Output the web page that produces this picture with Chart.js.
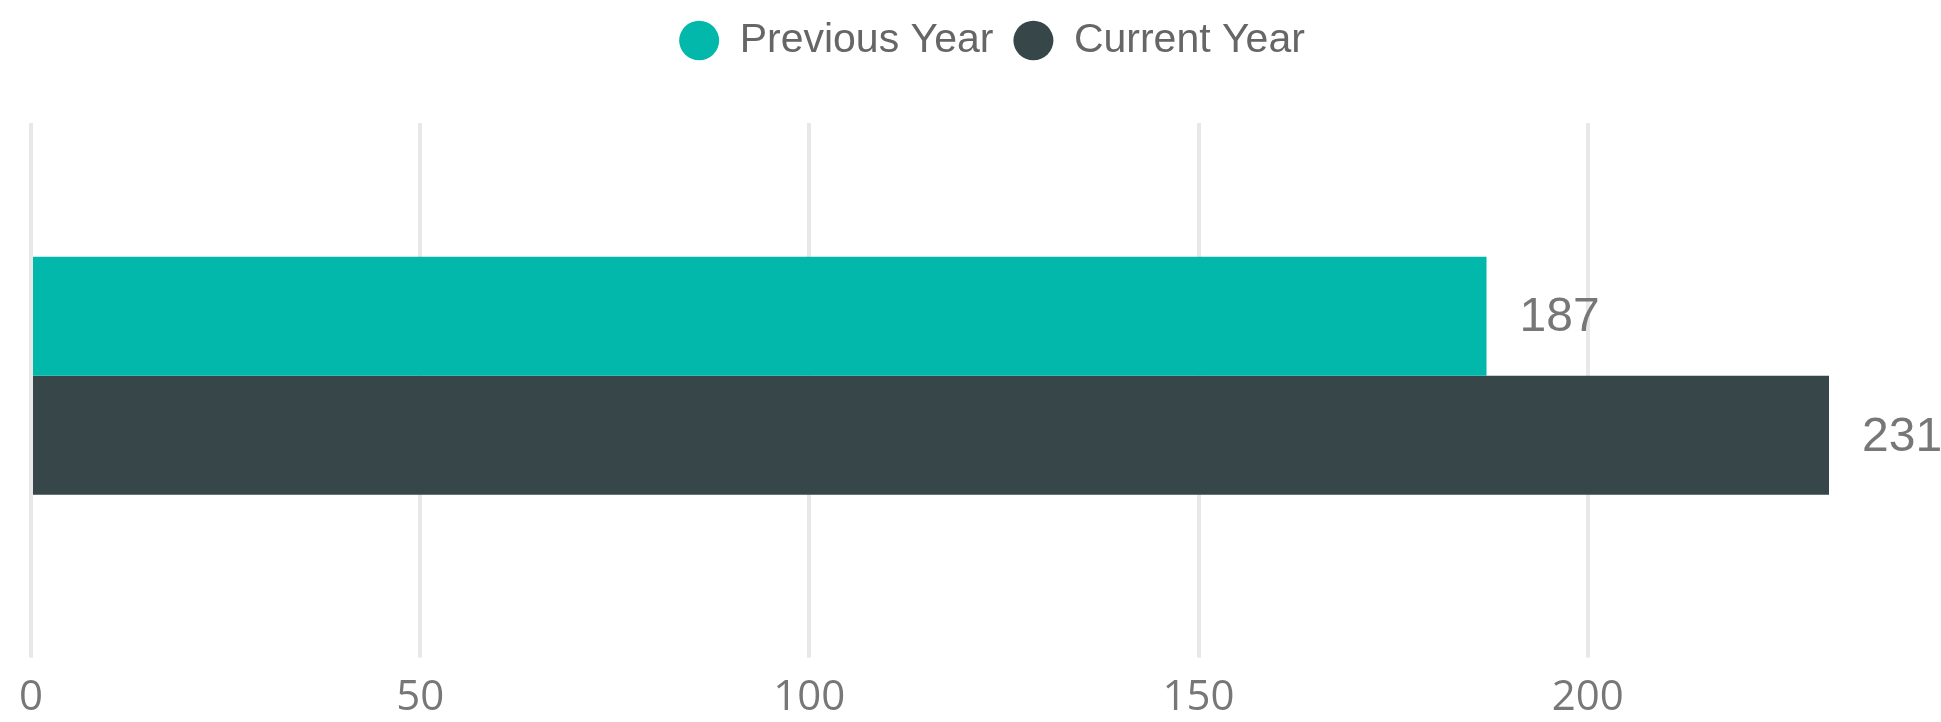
<!DOCTYPE html>
<html>
<head>
<meta charset="utf-8">
<script src="https://cdn.jsdelivr.net/npm/chart.js@4/dist/chart.umd.min.js"></script>
<style>
  html, body { margin: 0; padding: 0; background: #fff; }
  #wrap { width: 1941px; height: 722px; }
</style>
</head>
<body>
<div id="wrap"><canvas id="yoy"></canvas></div>
<script>
/** PREVIOUS vs CURRENT YEAR BAR WIDGET **/

var categories = [''];
var seriesNames = ['Previous Year', 'Current Year'];
var previousYear = [187];
var currentYear = [231];
var tickValues = [0, 50, 100, 150, 200];
var seriesColors = ['#01B8AA', '#374649'];

// value labels drawn next to each bar end
var barValueLabels = {
    id: 'barValueLabels',
    afterDatasetsDraw: function (chart) {
        var ctx = chart.ctx;
        ctx.save();
        ctx.font = '48px "Liberation Sans", Arial, sans-serif';
        ctx.fillStyle = '#777777';
        ctx.textAlign = 'left';
        ctx.textBaseline = 'middle';
        chart.data.datasets.forEach(function (ds, i) {
            chart.getDatasetMeta(i).data.forEach(function (bar, j) {
                ctx.fillText(String(ds.data[j]), bar.x + 33, bar.y + 2);
            });
        });
        ctx.restore();
    }
};

// extra room under the legend, and nudge it a bit right
var legendSpacing = {
    id: 'legendSpacing',
    beforeInit: function (chart) {
        var legend = chart.legend;
        var fit = legend.fit;
        legend.fit = function () {
            fit.call(legend);
            this.height += 52;
        };
    },
    afterLayout: function (chart) {
        chart.legend.left += 62;
        chart.legend.right += 62;
    }
};

var yoy = document.getElementById('yoy');

var yoyChart = new Chart(yoy, {
    type: 'bar',
    data: {
        labels: categories,
        datasets: [{
            label: seriesNames[0],
            data: previousYear,
            backgroundColor: seriesColors[0]
        }, {
            label: seriesNames[1],
            data: currentYear,
            backgroundColor: seriesColors[1]
        }]
    },
    options: {
        indexAxis: 'y',
        responsive: true,
        maintainAspectRatio: false,
        animation: false,
        categoryPercentage: 0.471,
        barPercentage: 1,
        layout: {
            padding: { left: 31, right: 112, top: 0, bottom: -16 }
        },
        plugins: {
            tooltip: { enabled: false },
            legend: {
                position: 'top',
                labels: {
                    usePointStyle: true,
                    pointStyle: 'circle',
                    pointStyleWidth: 40,
                    boxHeight: 28,
                    padding: 20,
                    color: '#666666',
                    font: { family: '"Liberation Sans", Arial, sans-serif', size: 41 }
                }
            }
        },
        scales: {
            x: {
                min: 0,
                max: 231,
                afterBuildTicks: function (axis) {
                    axis.ticks = tickValues.map(function (v) { return { value: v }; });
                },
                grid: {
                    color: '#e8e8e8',
                    lineWidth: 4,
                    drawTicks: true,
                    tickLength: 29
                },
                border: { display: false },
                ticks: {
                    color: '#777777',
                    padding: 15,
                    maxRotation: 0,
                    font: { family: '"Open Sans", sans-serif', size: 42 }
                }
            },
            y: {
                display: false
            }
        }
    },
    plugins: [barValueLabels, legendSpacing]
});
</script>
</body>
</html>
